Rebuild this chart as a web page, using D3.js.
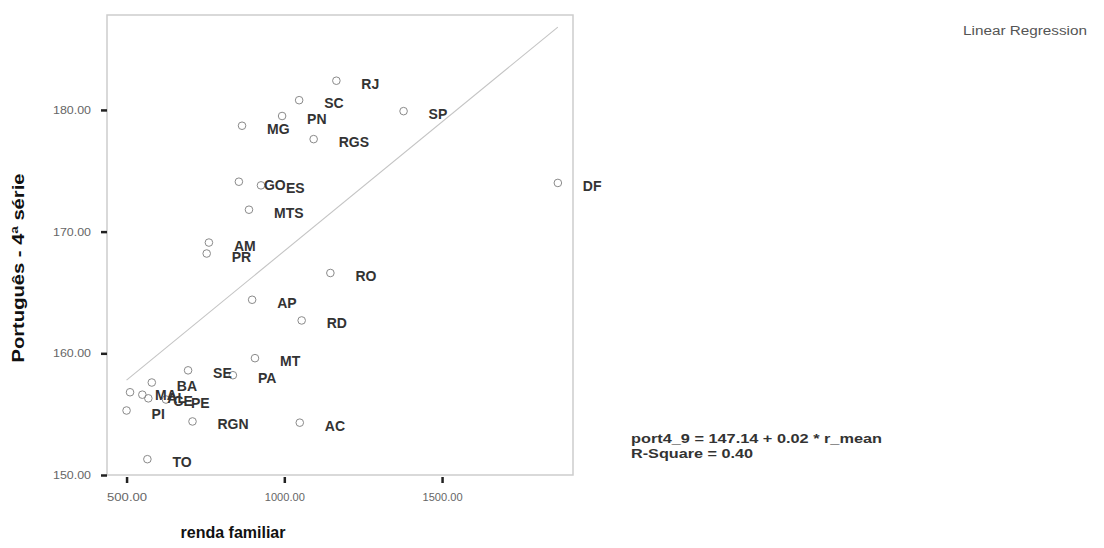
<!DOCTYPE html>
<html><head><meta charset="utf-8">
<script src="https://cdn.jsdelivr.net/npm/d3@7"></script>
<style>
body{margin:0;background:#fff}
svg{display:block}
text{font-family:"Liberation Sans",Arial,Helvetica,sans-serif}
</style>
</head><body>
<svg id="chart" width="1104" height="548"></svg>
<script>
// ---- data ----
const states = ["RJ","SC","SP","PN","MG","RGS","GO","ES","MTS","DF","AM","PR","RO","AP","RD","MT","SE","PA","BA","MA","AL","CE","PE","PI","RGN","AC","TO"];
const renda  = [1165,1047,1378,993,866,1093,856,926,888,1867,761,754,1146,898,1055,907,695,837,580,511,550,569,625,500,709,1049,566];
const port   = [182.4,180.8,179.9,179.5,178.7,177.6,174.1,173.8,171.8,174.0,169.1,168.2,166.6,164.4,162.7,159.6,158.6,158.2,157.6,156.8,156.6,156.3,156.2,155.3,154.4,154.3,151.3];
const xTickValues = [500,1000,1500];
const yTickValues = [150,160,170,180];
const xDomain = [438,1915];
const yDomain = [150,187.8];
const regIntercept = 147.19;
const regSlope = 0.02122;
const xTitle = "renda familiar";
const yTitle = "Português - 4ª série";
const methodLabel = "Linear Regression";
const eqLines = ["port4_9 = 147.14 + 0.02 * r_mean","R-Square = 0.40"];

// ---- layout ----
const svg = d3.select("#chart");
svg.append("rect").attr("width",1104).attr("height",548).attr("fill","#fff");
const L=107, R=573, T=15, B=475;
const x = d3.scaleLinear().domain(xDomain).range([L,R]);
const y = d3.scaleLinear().domain(yDomain).range([B,T]);

// frame
svg.append("rect").attr("x",L).attr("y",T).attr("width",R-L).attr("height",B-T)
  .attr("fill","none").attr("stroke","#cdcdcd").attr("stroke-width",1.5);

// axes
const yAxis = d3.axisLeft(y).tickValues(yTickValues).tickFormat(d3.format(".2f")).tickSize(0).tickPadding(0);
const gy = svg.append("g").attr("transform",`translate(${L},0)`).call(yAxis);
gy.select(".domain").remove();
gy.selectAll(".tick").append("line").attr("x1",-6).attr("x2",0).attr("stroke","#222").attr("stroke-width",2.5);
gy.selectAll(".tick text").attr("x",-16).attr("dy","0.35em").attr("text-anchor","end")
  .attr("font-size",10).attr("fill","#666").attr("textLength",38).attr("lengthAdjust","spacingAndGlyphs");

const xAxis = d3.axisBottom(x).tickValues(xTickValues).tickFormat(d3.format(".2f")).tickSize(0).tickPadding(0);
const gx = svg.append("g").attr("transform",`translate(0,${B})`).call(xAxis);
gx.select(".domain").remove();
gx.selectAll(".tick").append("line").attr("y1",2).attr("y2",8).attr("stroke","#222").attr("stroke-width",2.5);
gx.selectAll(".tick text").attr("y",22).attr("dy","0.35em").attr("text-anchor","middle")
  .attr("font-size",10).attr("fill","#666").attr("textLength",40).attr("lengthAdjust","spacingAndGlyphs");

// regression line
const xmin = d3.min(renda), xmax = d3.max(renda);
svg.append("line")
  .attr("x1",x(xmin)).attr("y1",y(regIntercept+regSlope*xmin))
  .attr("x2",x(xmax)).attr("y2",y(regIntercept+regSlope*xmax))
  .attr("stroke","#c4c4c4").attr("stroke-width",1.1);

// points
const data = states.map((s,i)=>({s, xv:renda[i], yv:port[i]}));
svg.append("g").selectAll("circle").data(data).join("circle")
  .attr("cx",d=>x(d.xv)).attr("cy",d=>y(d.yv)).attr("r",3.8)
  .attr("fill","none").attr("stroke","#8a8a8a").attr("stroke-width",1);

svg.append("g").selectAll("text").data(data).join("text")
  .attr("x",d=>x(d.xv)+25).attr("y",d=>y(d.yv)+8)
  .attr("font-size",14).attr("font-weight","bold").attr("fill","#333")
  .text(d=>d.s);

// titles
svg.append("text").attr("x",233).attr("y",538).attr("text-anchor","middle")
  .attr("font-size",16).attr("font-weight","bold").attr("fill","#111").text(xTitle);
svg.append("text").attr("transform","translate(24,268) rotate(-90)").attr("text-anchor","middle")
  .attr("font-size",16).attr("font-weight","bold").attr("fill","#111")
  .attr("textLength",189).attr("lengthAdjust","spacingAndGlyphs").text(yTitle);

svg.append("text").attr("x",963).attr("y",35).attr("font-size",12).attr("fill","#555")
  .attr("textLength",124).attr("lengthAdjust","spacingAndGlyphs").text(methodLabel);

svg.append("g").selectAll("text").data(eqLines).join("text")
  .attr("x",631).attr("y",(d,i)=>443+i*14.5).attr("font-size",12).attr("font-weight","bold").attr("fill","#333")
  .attr("textLength",(d,i)=>i===0?251:122).attr("lengthAdjust","spacingAndGlyphs")
  .text(d=>d);
</script>
</body></html>
